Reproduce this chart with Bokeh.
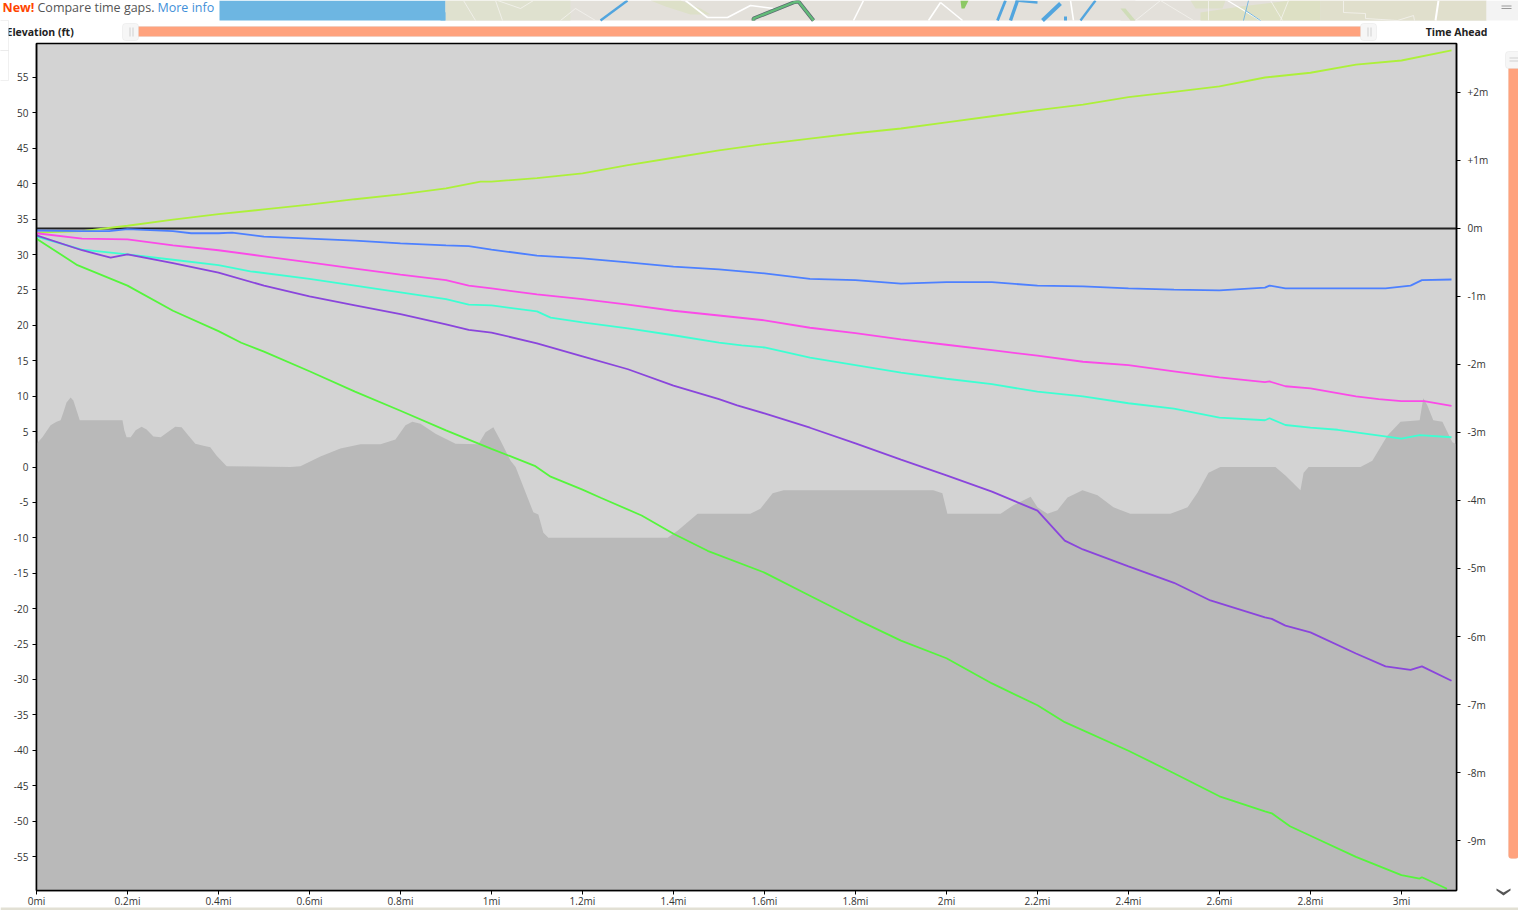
from bokeh.plotting import figure
from bokeh.layouts import column
from bokeh.embed import file_html
from bokeh.resources import INLINE
from bokeh.models import (Range1d, LinearAxis, FixedTicker, Label, BoxAnnotation)

# ---------------- data ----------------
elev_mi = [0,.013,.031,.044,.053,.059,.066,.075,.081,.088,.095,.189,.193,.198,.207,.218,.231,.242,.257,.273,.288,.305,.319,.332,.349,.367,.382,.396,.418,.558,.58,.624,.668,.712,.756,.789,.811,.826,.844,.877,.921,.971,.987,1.004,1.02,1.042,1.053,1.092,1.103,1.114,1.125,1.387,1.409,1.453,1.569,1.591,1.618,1.642,1.971,1.991,2.002,2.119,2.147,2.185,2.2,2.222,2.244,2.266,2.299,2.332,2.367,2.404,2.492,2.53,2.552,2.576,2.602,2.723,2.745,2.778,2.785,2.796,2.91,2.936,2.969,2.998,3.04,3.048,3.057,3.07,3.09,3.112,3.121]
elev_ft = [3.3,4.2,5.9,6.4,6.6,7.7,9.1,9.8,9.4,8.0,6.6,6.6,5.2,4.2,4.2,5.2,5.7,5.3,4.3,4.2,4.9,5.7,5.6,4.6,3.3,3.0,2.8,1.6,.1,0,.1,1.5,2.6,3.2,3.2,3.9,5.9,6.4,6.1,4.7,3.3,3.2,4.9,5.6,3.7,.9,0,-6.4,-6.7,-9.3,-10,-10,-9,-6.6,-6.6,-5.9,-3.7,-3.3,-3.3,-3.7,-6.6,-6.6,-5.4,-4.2,-5.7,-6.6,-6.1,-4.3,-3.3,-4.0,-5.7,-6.6,-6.6,-5.7,-3.6,-.8,0,0,-1.2,-3.3,-.8,0,0,.9,4.4,6.4,6.6,9.7,8.7,6.6,6.4,3.5,3.2]

lime_mi = [0,.1,.2,.3,.4,.5,.6,.7,.8,.9,.976,1.0,1.1,1.2,1.3,1.4,1.5,1.6,1.7,1.8,1.9,2.0,2.1,2.2,2.3,2.4,2.5,2.6,2.7,2.8,2.9,3.0,3.11]
lime_gap = [-.06,-.04,.04,.13,.21,.28,.35,.43,.50,.59,.69,.69,.74,.81,.93,1.04,1.15,1.24,1.32,1.40,1.47,1.56,1.65,1.74,1.82,1.93,2.01,2.09,2.22,2.29,2.41,2.47,2.62]
blue_mi = [0,.1,.16,.2,.3,.34,.4,.43,.5,.6,.7,.8,.9,.95,1,1.1,1.2,1.3,1.4,1.5,1.6,1.7,1.8,1.9,2,2.1,2.2,2.3,2.4,2.5,2.6,2.7,2.71,2.745,2.8,2.9,2.965,3.02,3.045,3.11]
blue_gap = [-.03,-.04,-.04,-.01,-.04,-.07,-.07,-.06,-.12,-.15,-.18,-.22,-.25,-.26,-.31,-.40,-.44,-.50,-.56,-.60,-.66,-.74,-.76,-.81,-.79,-.79,-.84,-.85,-.88,-.90,-.91,-.87,-.84,-.88,-.88,-.88,-.88,-.84,-.76,-.75]
magenta_mi = [0,.1,.2,.3,.4,.5,.6,.7,.8,.9,.95,1,1.1,1.2,1.3,1.4,1.5,1.6,1.7,1.8,1.9,2,2.1,2.2,2.3,2.4,2.5,2.6,2.7,2.71,2.745,2.8,2.9,2.95,3,3.05,3.11]
magenta_gap = [-.07,-.15,-.16,-.25,-.32,-.41,-.50,-.59,-.68,-.76,-.84,-.88,-.97,-1.04,-1.12,-1.21,-1.28,-1.35,-1.46,-1.54,-1.63,-1.71,-1.79,-1.87,-1.96,-2.01,-2.10,-2.19,-2.26,-2.25,-2.32,-2.35,-2.47,-2.51,-2.54,-2.54,-2.61]
cyan_mi = [0,.1,.2,.3,.4,.47,.6,.7,.8,.9,.95,1,1.1,1.13,1.2,1.3,1.4,1.5,1.55,1.6,1.7,1.8,1.9,2,2.1,2.2,2.3,2.4,2.5,2.6,2.7,2.71,2.745,2.8,2.86,3.0,3.04,3.11]
cyan_gap = [-.12,-.31,-.38,-.46,-.54,-.63,-.74,-.84,-.94,-1.04,-1.12,-1.13,-1.22,-1.31,-1.38,-1.47,-1.57,-1.68,-1.72,-1.75,-1.90,-2.01,-2.12,-2.21,-2.29,-2.40,-2.47,-2.57,-2.65,-2.78,-2.82,-2.79,-2.89,-2.93,-2.96,-3.09,-3.04,-3.07]
purple_mi = [0,.1,.163,.2,.3,.4,.5,.6,.7,.8,.9,.95,1,1.1,1.2,1.3,1.4,1.5,1.54,1.6,1.7,1.8,1.9,2,2.1,2.2,2.26,2.3,2.4,2.5,2.58,2.7,2.715,2.745,2.8,2.9,2.965,3.02,3.045,3.11]
purple_gap = [-.10,-.32,-.43,-.38,-.51,-.65,-.84,-1.0,-1.13,-1.26,-1.41,-1.49,-1.53,-1.69,-1.88,-2.07,-2.31,-2.51,-2.60,-2.72,-2.93,-3.16,-3.40,-3.63,-3.87,-4.15,-4.59,-4.72,-4.97,-5.21,-5.47,-5.72,-5.74,-5.84,-5.94,-6.25,-6.44,-6.49,-6.44,-6.65]
green_mi = [0,.09,.2,.3,.4,.45,.5,.6,.7,.8,.9,1.0,1.095,1.13,1.2,1.24,1.33,1.4,1.475,1.6,1.7,1.8,1.9,2,2.1,2.2,2.26,2.4,2.5,2.6,2.7,2.715,2.755,2.8,2.9,3.0,3.04,3.045,3.1]
green_gap = [-.15,-.54,-.84,-1.21,-1.51,-1.68,-1.81,-2.10,-2.40,-2.68,-2.97,-3.24,-3.49,-3.65,-3.84,-3.96,-4.22,-4.49,-4.74,-5.06,-5.40,-5.74,-6.06,-6.32,-6.69,-7.01,-7.26,-7.68,-8.01,-8.35,-8.57,-8.60,-8.79,-8.93,-9.24,-9.51,-9.56,-9.54,-9.71]

elev_ticks = list(range(-55, 60, 5))
gap_ticks = list(range(-9, 3))
dist_ticks = [i * 0.2 for i in range(16)]
dist_labels = ["0mi","0.2mi","0.4mi","0.6mi","0.8mi","1mi","1.2mi","1.4mi","1.6mi","1.8mi","2mi","2.2mi","2.4mi","2.6mi","2.8mi","3mi"]
gap_labels = ["-9m","-8m","-7m","-6m","-5m","-4m","-3m","-2m","-1m","0m","+1m","+2m"]

FONT = "Open Sans"

# ---------------- page furniture: a full-page figure behind the chart ----------------
bg = figure(width=1518, height=910, output_backend="svg", toolbar_location=None,
            x_range=Range1d(0, 1518), y_range=Range1d(910, 0), x_axis_location=None, y_axis_location=None,
            min_border=0, outline_line_color=None, background_fill_color="#ffffff", border_fill_color="#ffffff")
bg.frame_align = False
bg.grid.visible = False

def box(l, t, r, b, fill, line=None, lw=1, radius=0):
    bg.add_layout(BoxAnnotation(left=l, right=r, top=t, bottom=b, fill_color=fill, fill_alpha=1,
                                line_color=line, line_width=lw, border_radius=radius, editable=False))
def rect(l, t, r, b, fill):
    bg.quad(left=[l], right=[r], top=[t], bottom=[b], fill_color=fill, line_color=None)
def poly(xs, ys, fill):
    bg.patch(xs, ys, fill_color=fill, line_color=None)
def road(xs, ys, col="#ffffff", w=1.0):
    bg.line(xs, ys, line_color=col, line_width=w)
def text(x, y, s, size="10px", color="#222222", style_="normal", align="left"):
    bg.add_layout(Label(x=x, y=y, text=s, text_font=FONT, text_font_size=size, text_color=color,
                        text_font_style=style_, text_align=align, text_baseline="middle"))

# map strip
rect(445, 0, 1486, 20, "#e3e0da")
rect(219, 0, 445, 20, "#6db6e2")
rect(445, 0, 570, 20, "#dfe1cf")
poly([650, 680, 700, 710, 690, 665], [0, 0, 8, 14, 14, 6], "#dde0c8")
rect(1120, 0, 1135, 20, "#e3e0da")
poly([1120, 1125, 1135, 1130], [8, 8, 20, 20], "#cfdcb8")
poly([1190, 1225, 1222, 1195], [0, 0, 8, 8], "#dde0c8")
poly([1200, 1240, 1290, 1320, 1320, 1200], [12, 6, 0, 0, 20, 20], "#dde0c4")
rect(1320, 0, 1486, 20, "#e0dfcc")
rect(1486, 0, 1518, 20, "#f3f3f3")
poly([960, 968, 964, 961], [0, 0, 8, 8], "#8cc864")
for xs, ys in [([463, 475], [0, 20]), ([495, 502], [0, 20]), ([497, 520, 533], [0, 8, 0]), ([560, 575, 595], [20, 8, 20]),
               ([1160, 1135], [0, 20]), ([1160, 1193], [0, 20]), ([1208, 1208], [0, 20]),
               ([1343, 1343, 1365, 1365, 1397, 1413, 1414], [0, 12, 13, 18, 20, 15, 20]),
               ([1270, 1282], [0, 20]), ([1288, 1280], [0, 20])]:
    road(xs, ys, "#f4f3ef", 0.8)
road([685, 707, 727, 750, 773], [0, 17, 17, 5, 8], "#ffffff", 1.6)
road([863, 853], [0, 20], "#ffffff", 1.6)
road([940, 928], [2, 20], "#ffffff", 1.6)
road([940, 962], [2, 20], "#ffffff", 1.6)
road([1070, 1073], [0, 20], "#ffffff", 1.6)
road([1227, 1260], [0, 20], "#ffffff", 1.2)
road([1438, 1435], [0, 20], "#ffffff", 2.0)
poly([440, 445, 445, 443, 440], [8, 12, 20, 20, 20], "#6db6e2")
road([627, 600], [0, 20], "#52a5de", 2.4)
road([1005, 997], [0, 20], "#52a5de", 2.8)
road([1017, 1010], [0, 20], "#52a5de", 3.4)
road([1015, 1037], [0, 2], "#52a5de", 2.4)
road([1060, 1042], [3, 20], "#52a5de", 4.0)
road([1095, 1080], [0, 20], "#52a5de", 2.4)
road([1065, 1065], [16, 20], "#52a5de", 3.0)
road([1248, 1243], [0, 20], "#7ab8e0", 1.0)
road([1245, 1260], [10, 20], "#7ab8e0", 1.0)
road([753, 753, 793, 798, 813], [20, 18, 2, 1, 20], "#5a6a70", 3.8)
road([753, 753, 793, 798, 813], [20, 18, 2, 1, 20], "#62bb78", 2.4)
rect(1501, 5, 1511, 6, "#999999"); rect(1501, 7.5, 1511, 8.5, "#999999")

# bottom strip
rect(0, 907, 1518, 910, "#e2e0d4")

# top banner and axis captions
text(2, 7, "New!", "12.5px", "#ff4500", "bold")
text(37, 7, "Compare time gaps.", "12.5px", "#555555")
text(157, 7, "More info", "12.5px", "#3f8fd8")
text(6, 31, "Elevation (ft)", "10.5px", "#222222", "bold")
text(1487, 31, "Time Ahead", "10.5px", "#222222", "bold", "right")

# left panel (covers the start of the caption)
box(-2, 20, 8, 50, "#ffffff", "#cccccc")
box(-2, 50, 8, 80, "#ffffff", "#cccccc")

# range sliders
box(130, 26, 1368, 36, "#ffa27d", "#d8c8c0")
for a, b in [(122, 138), (1360, 1376)]:
    box(a, 23, b, 40, "#f6f6f6", "#d9d9d9", 1, 3)
    box(a + 7, 27, a + 8, 36, "#cfcfcf"); box(a + 10, 27, a + 11, 36, "#cfcfcf")
box(1508, 60, 1518, 858, "#ffa27d", "#e3b39d", 1, 3)
box(1505, 51, 1520, 68, "#f6f6f6", "#d9d9d9", 1, 3)
box(1509, 57, 1518, 58, "#cfcfcf"); box(1509, 60, 1518, 61, "#cfcfcf")
poly([1496, 1503, 1510, 1510, 1503, 1496], [888, 892, 888, 890, 895, 890], "#555555")

# ---------------- the chart ----------------
p = figure(width=1518, height=910, output_backend="svg", toolbar_location=None,
           x_range=Range1d(0, 3.121), y_range=Range1d(-59.8, 59.8),
           x_axis_location=None, y_axis_location=None,
           min_border_left=36, min_border_right=62, min_border_top=43, min_border_bottom=20,
           background_fill_color="#d3d3d3", border_fill_alpha=0,
           outline_line_color="#000000", outline_line_width=1.5)
p.frame_align = False
p.margin = (-910, 0, 0, 0)
p.grid.visible = False
p.extra_y_ranges = {"gap": Range1d(-9.735, 2.72)}

def style(ax):
    ax.axis_line_color = "#000000"
    ax.axis_line_width = 1.5
    ax.major_tick_line_color = "#000000"
    ax.major_tick_in = 0
    ax.major_tick_out = 4
    ax.minor_tick_line_color = None
    ax.major_label_text_font = FONT
    ax.major_label_text_font_size = "10px"
    ax.major_label_text_color = "#333333"
    ax.major_label_standoff = 4

left = LinearAxis(ticker=FixedTicker(ticks=elev_ticks)); style(left)
left.major_label_overrides = {t: str(t) for t in elev_ticks}
p.add_layout(left, "left")
right = LinearAxis(y_range_name="gap", ticker=FixedTicker(ticks=gap_ticks)); style(right)
right.major_label_standoff = 7
right.major_label_overrides = dict(zip(gap_ticks, gap_labels))
p.add_layout(right, "right")
bottom = LinearAxis(ticker=FixedTicker(ticks=dist_ticks)); style(bottom)
bottom.major_label_standoff = -1
bottom.major_label_overrides = dict(zip(dist_ticks, dist_labels))
p.add_layout(bottom, "below")

p.varea(elev_mi, [-59.8] * len(elev_mi), elev_ft, fill_color="#b9b9b9")
p.line([0, 3.121], [0, 0], y_range_name="gap", line_color="#222222", line_width=2)
for xs, ys, col in [(lime_mi, lime_gap, "#adf03a"), (blue_mi, blue_gap, "#4d80ff"),
                    (magenta_mi, magenta_gap, "#fb4ae8"), (cyan_mi, cyan_gap, "#3dffd2"),
                    (purple_mi, purple_gap, "#8a45dc"), (green_mi, green_gap, "#55f53c")]:
    p.line(xs, ys, y_range_name="gap", line_color=col, line_width=1.8)

page = column(bg, p, spacing=0)
open("out.html", "w").write(file_html(page, INLINE))
